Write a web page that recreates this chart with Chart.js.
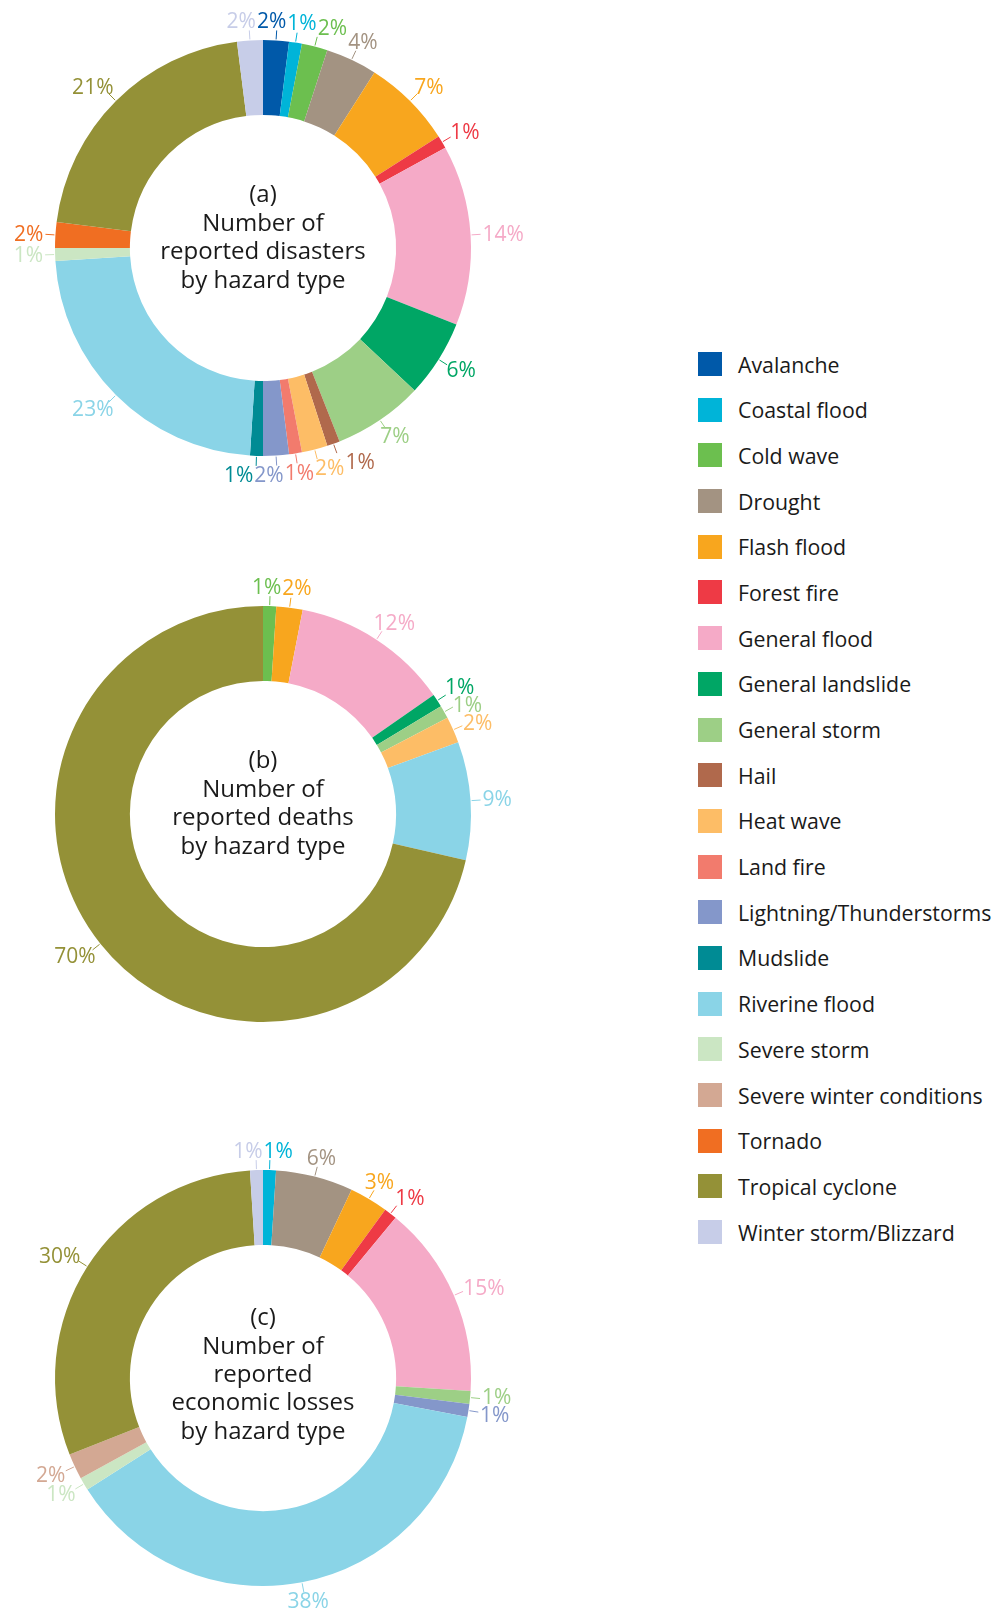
<!DOCTYPE html>
<html lang="en">
<head>
    <meta charset="UTF-8">
    <title>Disasters by hazard type</title>
    <script src="https://cdn.jsdelivr.net/npm/chart.js"></script>
    <style>
        body {
            margin: 0;
            width: 998px;
            height: 1611px;
            overflow: hidden;
            background: #fff;
            position: relative;
            font-family: "Open Sans", sans-serif;
            color: #1a1a1a;
        }
        .donut {
            position: absolute;
            left: 0;
        }
        #legend {
            position: absolute;
            left: 698px;
            top: 352px;
        }
        .legend-item {
            display: flex;
            align-items: center;
            height: 24px;
            margin-bottom: 21.7px;
            font-size: 21.3px;
            white-space: nowrap;
        }
        .swatch {
            width: 24px;
            height: 24px;
            margin-right: 16px;
            flex: none;
        }
    </style>
</head>
<body>
    <div class="donut" style="top:0px"><canvas id="chartA" width="526" height="496"></canvas></div>
    <div class="donut" style="top:566px"><canvas id="chartB" width="526" height="496"></canvas></div>
    <div class="donut" style="top:1130px"><canvas id="chartC" width="526" height="496"></canvas></div>
    <div id="legend"></div>

    <script>
        // Hazard types (legend order = slice order, clockwise from 12 o'clock)
        const hazards = ['Avalanche', 'Coastal flood', 'Cold wave', 'Drought', 'Flash flood', 'Forest fire',
            'General flood', 'General landslide', 'General storm', 'Hail', 'Heat wave', 'Land fire',
            'Lightning/Thunderstorms', 'Mudslide', 'Riverine flood', 'Severe storm',
            'Severe winter conditions', 'Tornado', 'Tropical cyclone', 'Winter storm/Blizzard'];

        const hazardColors = ['#0059a9', '#00b4d8', '#6cbf4f', '#a39382', '#f8a61e', '#ee3a45',
            '#f5aac7', '#00a665', '#9dcf86', '#b0694c', '#fdbd66', '#f27b6d',
            '#8497ca', '#008b94', '#8ad4e7', '#cbe6c3',
            '#d3a893', '#f06e22', '#949137', '#c7cde8'];

        // Shares in percent (0 = not present in that panel)
        const disasters = [2, 1, 2, 4, 7, 1, 14, 6, 7, 1, 2, 1, 2, 1, 23, 1, 0, 2, 21, 2];
        const deaths    = [0, 0, 1, 0, 2, 0, 12, 1, 1, 0, 2, 0, 0, 0, 9, 0, 0, 0, 70, 0];
        const losses    = [0, 1, 0, 6, 3, 1, 15, 0, 1, 0, 0, 0, 1, 0, 38, 1, 2, 0, 30, 1];

        const titleA = ['(a)', 'Number of', 'reported disasters', 'by hazard type'];
        const titleB = ['(b)', 'Number of', 'reported deaths', 'by hazard type'];
        const titleC = ['(c)', 'Number of', 'reported', 'economic losses', 'by hazard type'];

        // text in the hole of the donut
        const centerText = {
            id: 'centerText',
            afterDraw(chart, args, opts) {
                const arc = chart.getDatasetMeta(0).data[0];
                if (!arc) return;
                const ctx = chart.ctx;
                const lines = opts.lines || [];
                const lh = 28.4;
                const dy = opts.dy || 0;
                ctx.save();
                ctx.font = '24px "Open Sans"';
                ctx.fillStyle = '#1a1a1a';
                ctx.textAlign = 'center';
                ctx.textBaseline = 'alphabetic';
                lines.forEach((t, i) => {
                    const y = arc.y + (i - (lines.length - 1) / 2) * lh + dy;
                    ctx.fillText(t, arc.x, y);
                });
                ctx.restore();
            }
        };

        // percentage labels with short leader lines outside the ring
        const pctLabels = {
            id: 'pctLabels',
            afterDatasetsDraw(chart) {
                const ctx = chart.ctx;
                const ds = chart.data.datasets[0];
                const meta = chart.getDatasetMeta(0);
                ctx.save();
                ctx.font = '21px "Open Sans"';
                const boxes = [];
                meta.data.forEach((arc, i) => {
                    if (!ds.data[i]) return;
                    const p = arc.getProps(['x', 'y', 'startAngle', 'endAngle', 'outerRadius'], true);
                    const mid = (p.startAngle + p.endAngle) / 2;
                    const cos = Math.cos(mid), sin = Math.sin(mid);
                    const text = ds.data[i] + '%';
                    const w = ctx.measureText(text).width;
                    const h = 15;
                    const r = p.outerRadius + 12;
                    boxes.push({
                        text, w, h, cos, sin, p,
                        color: ds.backgroundColor[i],
                        cx: p.x + cos * r + cos * w / 2,
                        cy: p.y + sin * r + sin * h / 2
                    });
                });

                // push overlapping labels apart: sideways near top/bottom, up/down near the sides
                for (let it = 0; it < 300; it++) {
                    let moved = false;
                    for (let a = 0; a < boxes.length; a++) {
                        for (let b = a + 1; b < boxes.length; b++) {
                            const A = boxes[a], B = boxes[b];
                            const ox = (A.w + B.w) / 2 + 1 - Math.abs(A.cx - B.cx);
                            const oy = (A.h + B.h) / 2 + 3 - Math.abs(A.cy - B.cy);
                            if (ox > 0 && oy > 0) {
                                const vertical = Math.abs(A.sin) > 0.7 && Math.abs(B.sin) > 0.7;
                                const horizontal = Math.abs(A.cos) > 0.7 && Math.abs(B.cos) > 0.7;
                                const alongX = vertical ? true : horizontal ? false : ox < oy;
                                if (alongX) {
                                    const d = ox / 2 * (Math.sign(B.cx - A.cx) || 1);
                                    A.cx -= d; B.cx += d;
                                } else {
                                    const d = oy / 2 * (Math.sign(B.cy - A.cy) || 1);
                                    A.cy -= d; B.cy += d;
                                }
                                moved = true;
                            }
                        }
                    }
                    if (!moved) break;
                }

                ctx.lineWidth = 1;
                ctx.textAlign = 'center';
                ctx.textBaseline = 'middle';
                boxes.forEach(b => {
                    const r0 = b.p.outerRadius + 1, r1 = b.p.outerRadius + 10;
                    ctx.strokeStyle = b.color;
                    ctx.beginPath();
                    ctx.moveTo(b.p.x + b.cos * r0, b.p.y + b.sin * r0);
                    ctx.lineTo(b.p.x + b.cos * r1, b.p.y + b.sin * r1);
                    ctx.stroke();
                    ctx.fillStyle = b.color;
                    ctx.fillText(b.text, b.cx, b.cy + 1);
                });
                ctx.restore();
            }
        };

        function makeDonut(id, values, lines, dy) {
            return new Chart(document.getElementById(id), {
                type: 'doughnut',
                data: {
                    labels: hazards,
                    datasets: [{
                        data: values,
                        backgroundColor: hazardColors,
                        borderWidth: 0
                    }]
                },
                options: {
                    responsive: false,
                    animation: false,
                    cutout: '64%',
                    layout: { padding: 40 },
                    plugins: {
                        legend: { display: false },
                        tooltip: { enabled: false },
                        centerText: { lines: lines, dy: dy }
                    }
                },
                plugins: [pctLabels, centerText]
            });
        }

        makeDonut('chartA', disasters, titleA, -3);
        makeDonut('chartB', deaths, titleB, -3);
        makeDonut('chartC', losses, titleC, 4);

        // legend
        const legend = document.getElementById('legend');
        hazards.forEach((name, i) => {
            const item = document.createElement('div');
            item.className = 'legend-item';
            item.innerHTML = `<span class="swatch" style="background:${hazardColors[i]}"></span><span>${name}</span>`;
            legend.appendChild(item);
        });
    </script>
</body>
</html>
